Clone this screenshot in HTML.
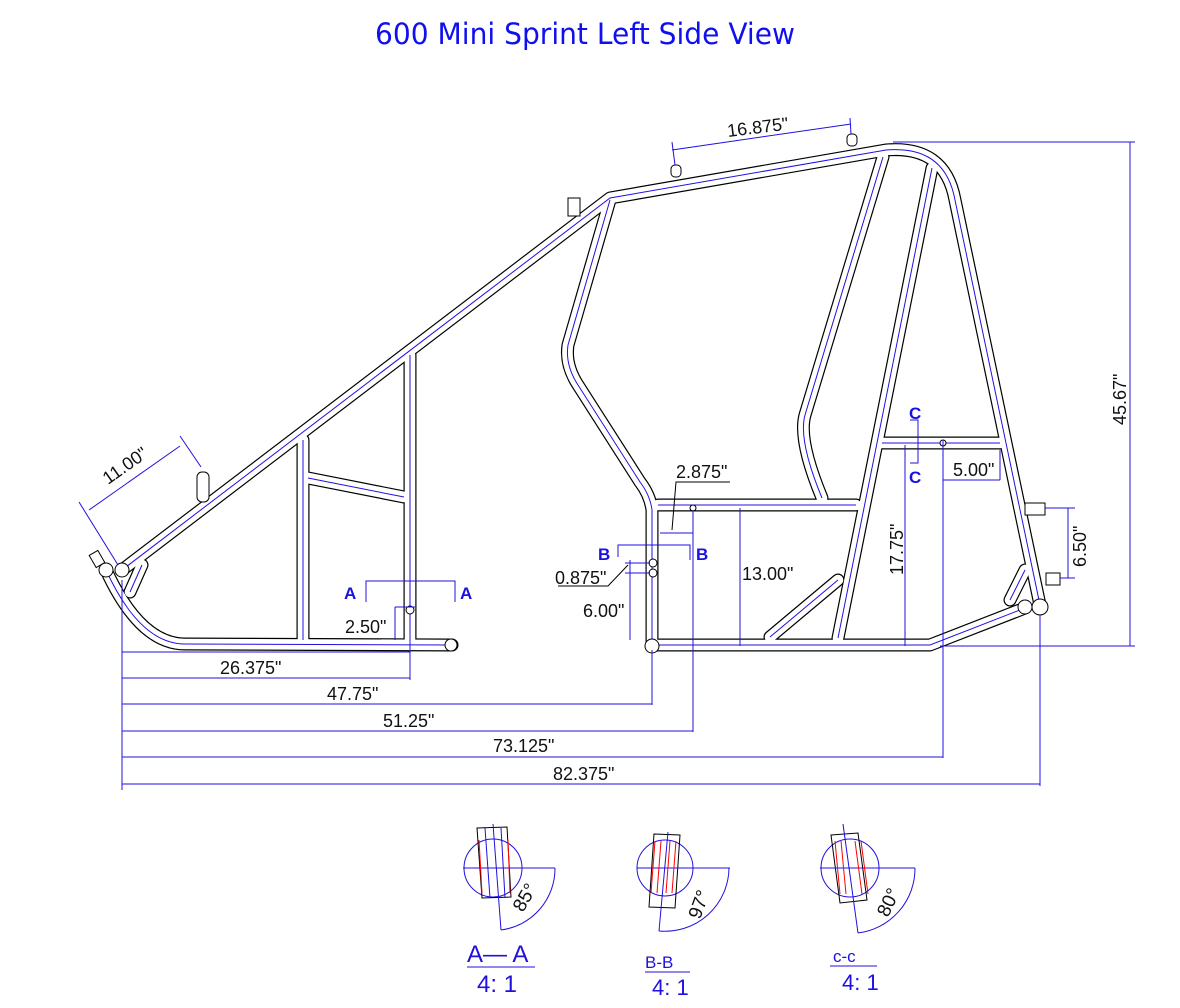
<!DOCTYPE html>
<html><head><style>
html,body{margin:0;padding:0;background:#fff;}
svg{display:block;}
text{font-family:"Liberation Sans",Arial,sans-serif;}
.t{fill:none;stroke:#000;stroke-width:13;stroke-linecap:round;stroke-linejoin:round;}
.w{fill:none;stroke:#fff;stroke-width:10.6;stroke-linecap:round;stroke-linejoin:round;}
.c{fill:none;stroke:#2010e0;stroke-width:1;}
.d{fill:none;stroke:#2010e0;stroke-width:1;}
.lab{font-size:18px;fill:#111;}
.bl{font-size:17px;fill:#1a10e0;font-weight:bold;}
</style></head><body>
<svg width="1180" height="1008" viewBox="0 0 1180 1008" xmlns="http://www.w3.org/2000/svg">
<text x="585" y="44" text-anchor="middle" style="font-size:29px;fill:#1010ee;font-family:'DejaVu Sans','Liberation Sans',sans-serif;" textLength="420" lengthAdjust="spacingAndGlyphs">600 Mini Sprint Left Side View</text>

<defs>
<g id="tubes">
<path d="M122,570 L610,198 L886,150 Q945,145 955,200 L1040,605"/>
<path d="M106,570 Q140,644 185,644 L452,645"/>
<path d="M610,200 L568,345 Q565,365 578,385 L640,482 Q650,495 652,510 L652,645 L930,645 L1025,608"/>
<path d="M303,440 L303,640"/>
<path d="M410,355 L410,645"/>
<path d="M308,478 L404,497"/>
<path d="M658,505 L856,505"/>
<path d="M883,157 L805,415 Q798,440 822,498"/>
<path d="M932,168 L838,638"/>
<path d="M882,443 L1000,443"/>
<path d="M770,637 L838,580"/>
<path d="M130,592 L142,565"/>
<path d="M1010,600 L1025,570"/>
</g>
</defs>
<use href="#tubes" class="t"/>
<use href="#tubes" class="w"/>
<use href="#tubes" class="c"/>

<g fill="#fff" stroke="#000" stroke-width="1">
<rect x="197" y="472" width="12" height="30" rx="5"/>
<rect x="568" y="198" width="12" height="18"/>
<rect x="671" y="165" width="10" height="12" rx="4"/>
<rect x="847" y="134" width="10" height="12" rx="4"/>
<rect x="1025" y="503" width="20" height="12"/>
<rect x="1046" y="573" width="14" height="12"/>
<rect x="92" y="552" width="10" height="14" transform="rotate(-30 97 559)"/>
<circle cx="106" cy="570" r="7"/>
<circle cx="122" cy="570" r="7"/>
<circle cx="1025" cy="607" r="7"/>
<circle cx="1040" cy="607" r="8"/>
<circle cx="652" cy="646" r="7"/>
<circle cx="451" cy="645" r="6"/>
<circle cx="410" cy="610" r="4"/>
<circle cx="653" cy="563" r="4"/>
<circle cx="653" cy="573" r="4"/>
<circle cx="693" cy="508" r="3"/>
<circle cx="943" cy="443" r="3"/>
</g>

<g class="d">
<line x1="122" y1="580" x2="122" y2="790"/>
<line x1="410" y1="620" x2="410" y2="680"/>
<line x1="652" y1="650" x2="652" y2="705"/>
<line x1="693" y1="510" x2="693" y2="732"/>
<line x1="943" y1="440" x2="943" y2="758"/>
<line x1="1040" y1="615" x2="1040" y2="786"/>
<line x1="122" y1="652" x2="410" y2="652"/>
<line x1="122" y1="678" x2="410" y2="678"/>
<line x1="122" y1="704" x2="652" y2="704"/>
<line x1="122" y1="731" x2="693" y2="731"/>
<line x1="122" y1="757" x2="943" y2="757"/>
<line x1="122" y1="784" x2="1040" y2="784"/>
<line x1="893" y1="142" x2="1135" y2="142"/>
<line x1="940" y1="646" x2="1135" y2="646"/>
<line x1="1130" y1="142" x2="1130" y2="646"/>
<line x1="740" y1="508" x2="740" y2="646"/>
<line x1="905" y1="445" x2="905" y2="646"/>
<line x1="630" y1="560" x2="630" y2="640"/>
<line x1="625" y1="563" x2="650" y2="563"/>
<line x1="625" y1="573" x2="650" y2="573"/>
<line x1="660" y1="533" x2="693" y2="533"/>
<line x1="943" y1="480" x2="1000" y2="480"/>
<line x1="1000" y1="450" x2="1000" y2="480"/>
<line x1="1045" y1="508" x2="1075" y2="508"/>
<line x1="1060" y1="578" x2="1075" y2="578"/>
<line x1="1068" y1="508" x2="1068" y2="578"/>
<line x1="395" y1="607" x2="395" y2="640"/>
<line x1="395" y1="607" x2="415" y2="607"/>
<line x1="672" y1="150" x2="851" y2="124"/>
<line x1="672" y1="142" x2="675" y2="165"/>
<line x1="850" y1="118" x2="851" y2="134"/>
<line x1="79" y1="502" x2="118" y2="565"/>
<line x1="180" y1="436" x2="201" y2="467"/>
<line x1="89" y1="510" x2="180" y2="446"/>
<polyline points="366,602 366,581 455,581 455,602"/>
<polyline points="618,557 618,545 690,545 690,560"/>
<polyline points="910,420 918,420 918,463 910,463"/>
</g>
<polyline points="672,530 676,482 730,482" fill="none" stroke="#000" stroke-width="1"/>
<polyline points="558,586 608,586 628,565" fill="none" stroke="#000" stroke-width="1"/>

<g class="lab">
<text x="220" y="674">26.375"</text>
<text x="327" y="700">47.75"</text>
<text x="383" y="727">51.25"</text>
<text x="493" y="752">73.125"</text>
<text x="553" y="780">82.375"</text>
<text x="345" y="633">2.50"</text>
<text x="676" y="478">2.875"</text>
<text x="555" y="584">0.875"</text>
<text x="583" y="617">6.00"</text>
<text x="742" y="580">13.00"</text>
<text x="953" y="476">5.00"</text>
<text x="728" y="137" transform="rotate(-7 728 137)">16.875"</text>
<text x="108" y="485" transform="rotate(-35 108 485)">11.00"</text>
<text transform="translate(903,575) rotate(-90)">17.75"</text>
<text transform="translate(1086,567) rotate(-90)">6.50"</text>
<text transform="translate(1126,425) rotate(-90)">45.67"</text>
</g>
<g class="bl">
<text x="344" y="599">A</text><text x="460" y="599">A</text>
<text x="598" y="560">B</text><text x="696" y="560">B</text>
<text x="909" y="419">C</text><text x="909" y="483">C</text>
</g>

<g transform="translate(493,868)">
<circle r="29" fill="none" stroke="#2010e0"/>
<polygon points="-16,-40 14,-41 18,29 -11,30" fill="none" stroke="#000"/>
<line x1="-30" y1="0" x2="62" y2="0" class="d"/>
<line x1="0" y1="-44" x2="8" y2="62" class="d"/>
<line x1="-8" y1="-40" x2="-3" y2="30" class="d"/><line x1="8" y1="-40" x2="12" y2="30" class="d"/>
<path d="M8,62 A62,62 0 0 0 62,0" class="d"/>
<line x1="-14" y1="-28" x2="-11" y2="25" stroke="red"/><line x1="15" y1="-28" x2="17" y2="25" stroke="red"/>
<text x="30" y="45" transform="rotate(-60 30 45)" class="lab" style="font-size:19px">85°</text>
</g>
<g transform="translate(665,868)">
<circle r="28" fill="none" stroke="#2010e0"/>
<polygon points="-11,-34 15,-33 10,40 -16,39" fill="none" stroke="#000"/>
<line x1="-28" y1="0" x2="65" y2="0" class="d"/>
<line x1="3" y1="-36" x2="-6" y2="63" class="d"/>
<path d="M-6,63 A64,64 0 0 0 64,0" class="d"/>
<line x1="-10" y1="-27" x2="-14" y2="25" stroke="red"/><line x1="-4" y1="-27" x2="-8" y2="25" stroke="red"/>
<line x1="11" y1="-27" x2="7" y2="25" stroke="red"/><line x1="5" y1="-27" x2="1" y2="25" stroke="red"/>
<text x="35" y="52" transform="rotate(-70 35 52)" class="lab" style="font-size:19px">97°</text>
</g>
<g transform="translate(850,868)">
<circle r="29" fill="none" stroke="#2010e0"/>
<polygon points="-19,-33 8,-35 17,32 -10,35" fill="none" stroke="#000"/>
<line x1="-30" y1="0" x2="65" y2="0" class="d"/>
<line x1="-7" y1="-44" x2="8" y2="65" class="d"/>
<path d="M8,65 A65,65 0 0 0 65,0" class="d"/>
<line x1="-15" y1="-27" x2="-10" y2="26" stroke="red"/><line x1="-9" y1="-27" x2="-4" y2="26" stroke="red"/>
<line x1="5" y1="-27" x2="12" y2="26" stroke="red"/><line x1="11" y1="-27" x2="18" y2="26" stroke="red"/>
<text x="38" y="50" transform="rotate(-65 38 50)" class="lab" style="font-size:19px">80°</text>
</g>
<g fill="#2010e0" style="font-family:'DejaVu Sans',sans-serif">
<text x="467" y="962" style="font-size:24px">A— A</text>
<line x1="467" y1="967" x2="535" y2="967" stroke="#2010e0"/>
<text x="477" y="992" style="font-size:24px">4: 1</text>
<text x="645" y="968" style="font-size:17px">B-B</text>
<line x1="645" y1="972" x2="690" y2="972" stroke="#2010e0"/>
<text x="652" y="995" style="font-size:22px">4: 1</text>
<text x="833" y="962" style="font-size:17px">c-c</text>
<line x1="830" y1="966" x2="877" y2="966" stroke="#2010e0"/>
<text x="842" y="990" style="font-size:22px">4: 1</text>
</g>
</svg>
</body></html>
